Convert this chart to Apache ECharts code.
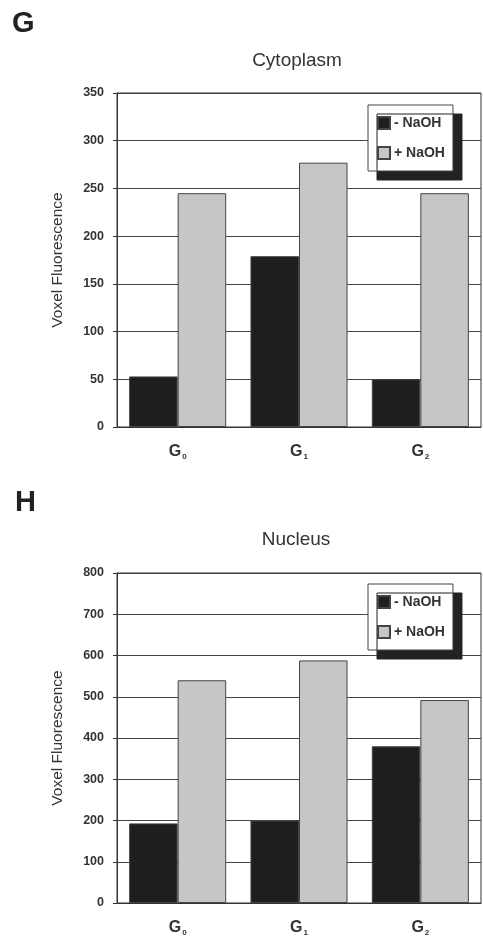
<!DOCTYPE html>
<html>
<head>
<meta charset="utf-8">
<script src="https://cdn.jsdelivr.net/npm/echarts@6/dist/echarts.min.js"></script>
<style>
html,body{margin:0;padding:0;background:#fff;}
#chart{width:483px;height:937px;}
</style>
</head>
<body>
<div id="chart"></div>
<script>
var categories = ['G0', 'G1', 'G2'];
var seriesNames = ['- NaOH', '+ NaOH'];
var cytoMinus = [53, 179, 50];
var cytoPlus = [245, 277, 245];
var nucMinus = [193, 200, 380];
var nucPlus = [540, 588, 492];
var cytoTicks = {min: 0, max: 350, interval: 50};
var nucTicks = {min: 0, max: 800, interval: 100};

var FONT = '"Liberation Sans", Arial, Helvetica, sans-serif';
var chart = echarts.init(document.getElementById('chart'));

function xAxis(gi) {
  return {
    type: 'category', gridIndex: gi, data: categories,
    axisLine: {show: true, lineStyle: {color: '#333', width: 1}},
    axisTick: {show: false},
    axisLabel: {
      margin: 16,
      formatter: function (v) { return '{g|G}{s|' + v.slice(1) + '}'; },
      rich: {
        g: {fontFamily: FONT, fontWeight: 'bold', fontSize: 16, color: '#333'},
        s: {fontFamily: FONT, fontWeight: 'bold', fontSize: 8, color: '#333', padding: [10, 0, 0, 1]}
      }
    }
  };
}
function yAxis(gi, t) {
  return {
    type: 'value', gridIndex: gi, min: t.min, max: t.max, interval: t.interval,
    name: 'Voxel Fluorescence', nameLocation: 'middle', nameGap: 51,
    nameTextStyle: {fontFamily: FONT, fontSize: 15.5, color: '#333'},
    axisLine: {show: true, lineStyle: {color: '#333', width: 1}},
    axisTick: {show: true, length: 4, lineStyle: {color: '#333'}},
    splitLine: {show: true, lineStyle: {color: '#444', width: 1}},
    axisLabel: {margin: 13, fontFamily: FONT, fontWeight: 'bold', fontSize: 12.5, color: '#333'}
  };
}
function legend(top) {
  return {
    data: [
      {name: seriesNames[0]},
      {name: seriesNames[1]}
    ],
    icon: 'rect',
    orient: 'vertical', left: 368, top: top,
    itemWidth: 12, itemHeight: 12, itemGap: 16,
    padding: [11, 8, 11, 9],
    backgroundColor: '#fff', borderColor: '#444', borderWidth: 1,
    shadowColor: '#222', shadowBlur: 0, shadowOffsetX: 9, shadowOffsetY: 9,
    textStyle: {fontFamily: FONT, fontWeight: 'bold', fontSize: 14, color: '#333', padding: [0, 0, 0, -1]},
    selectedMode: false
  };
}
function bar(name, data, gi, color) {
  return {
    type: 'bar', name: name, xAxisIndex: gi, yAxisIndex: gi, data: data,
    barGap: '0%', barCategoryGap: '20%',
    itemStyle: {color: color, borderColor: '#444', borderWidth: 1},
    emphasis: {disabled: true}
  };
}

chart.setOption({
  backgroundColor: '#fff',
  animation: false,
  title: [
    {text: 'G', left: 7, top: 4, textStyle: {fontFamily: FONT, fontWeight: 'bold', fontSize: 29, color: '#222'}},
    {text: 'Cytoplasm', left: 292, top: 46, textAlign: 'center', textStyle: {fontFamily: FONT, fontWeight: 'normal', fontSize: 19, color: '#333'}},
    {text: 'H', left: 10, top: 483, textStyle: {fontFamily: FONT, fontWeight: 'bold', fontSize: 29, color: '#222'}},
    {text: 'Nucleus', left: 291, top: 525, textAlign: 'center', textStyle: {fontFamily: FONT, fontWeight: 'normal', fontSize: 19, color: '#333'}}
  ],
  legend: [legend(105), legend(584)],
  grid: [
    {left: 117, top: 93, width: 364, height: 334, show: true, borderColor: '#333', borderWidth: 1, containLabel: false},
    {left: 117, top: 573, width: 364, height: 333, show: true, borderColor: '#333', borderWidth: 1, containLabel: false}
  ],
  xAxis: [xAxis(0), xAxis(1)],
  yAxis: [yAxis(0, cytoTicks), yAxis(1, nucTicks)],
  series: [
    bar(seriesNames[0], cytoMinus, 0, '#1e1e1e'),
    bar(seriesNames[1], cytoPlus, 0, '#c6c6c6'),
    bar(seriesNames[0], nucMinus, 1, '#1e1e1e'),
    bar(seriesNames[1], nucPlus, 1, '#c6c6c6')
  ]
});
</script>
</body>
</html>
